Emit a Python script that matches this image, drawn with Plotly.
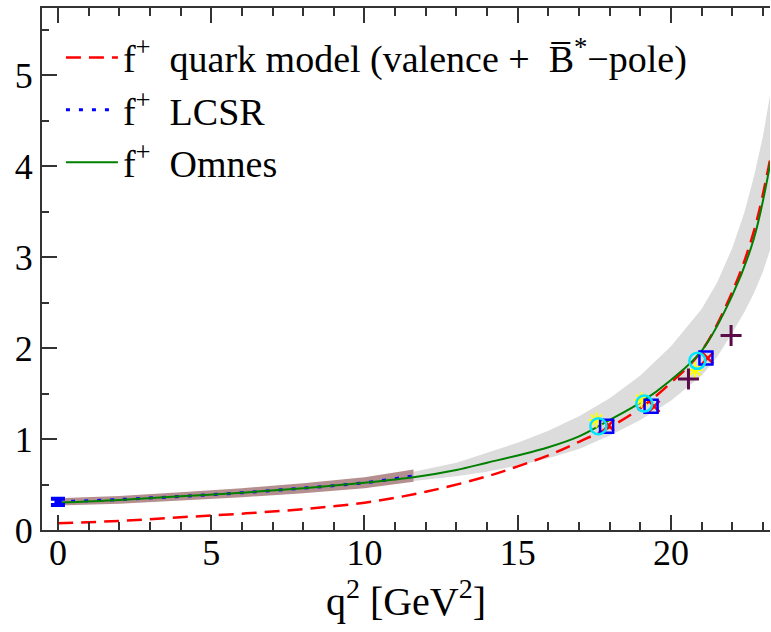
import plotly.graph_objects as go

# Quark model (valence + B*-pole), red dashed
q2_qm = [0, 2, 4, 6, 8, 10, 12, 14, 15, 16, 17, 18, 19, 20, 21, 22, 22.7, 23.26]
f_qm = [0.075, 0.10, 0.14, 0.18, 0.23, 0.30, 0.42, 0.59, 0.70, 0.82, 0.97, 1.13, 1.34, 1.62, 1.97, 2.62, 3.28, 4.12]

# Omnes, green solid
q2_om = [0, 2, 4, 6, 8, 10, 11.6, 13, 14, 15, 16, 17, 18, 19, 20, 21, 22, 22.7, 23.26]
f_om = [0.30, 0.33, 0.37, 0.41, 0.46, 0.52, 0.58, 0.66, 0.74, 0.82, 0.91, 1.03, 1.21, 1.40, 1.65, 1.97, 2.58, 3.20, 4.07]

# Omnes uncertainty band (grey)
q2_band = [11.6, 13, 14, 15, 16, 17, 18, 19, 20, 21, 21.5, 22, 22.4, 22.7, 23.0, 23.26]
band_up = [0.64, 0.74, 0.85, 0.96, 1.09, 1.25, 1.45, 1.70, 2.02, 2.43, 2.72, 3.10, 3.50, 3.88, 4.33, 4.84]
band_lo = [0.54, 0.59, 0.64, 0.71, 0.79, 0.89, 1.04, 1.21, 1.42, 1.70, 1.90, 2.17, 2.40, 2.60, 2.84, 3.11]

# LCSR, blue dotted, with brown band
q2_lc = [0, 2, 4, 6, 8, 10, 11.6]
f_lc = [0.31, 0.335, 0.37, 0.41, 0.46, 0.52, 0.595]
lc_up = [0.35, 0.375, 0.415, 0.46, 0.515, 0.58, 0.665]
lc_lo = [0.27, 0.29, 0.325, 0.36, 0.405, 0.46, 0.53]

# q2 = 0 point
q2_zero = [0]
f_zero = [0.31]
f_zero_err = [0.035]

# lattice points
q2_circ = [17.63, 19.13, 20.86]
f_circ = [1.14, 1.39, 1.86]
q2_star = [17.57, 19.04, 20.78]
f_star = [1.21, 1.43, 1.76]
q2_sq = [17.90, 19.35, 21.14]
f_sq = [1.14, 1.36, 1.89]
q2_x = [17.96, 19.45, 21.20]
f_x = [1.15, 1.36, 1.89]
q2_plus = [20.57, 21.96]
f_plus = [1.66, 2.14]

x_ticks = [0, 5, 10, 15, 20]
y_ticks = [0, 1, 2, 3, 4, 5]

SERIF = "Liberation Serif, Times New Roman, serif"

fig = go.Figure()

# grey band
fig.add_trace(go.Scatter(
    x=q2_band + q2_band[::-1], y=band_up + band_lo[::-1],
    fill="toself", fillcolor="#dcdcdc", line=dict(width=0),
    mode="lines", showlegend=False, hoverinfo="skip"))
# brown band
fig.add_trace(go.Scatter(
    x=q2_lc + q2_lc[::-1], y=lc_up + lc_lo[::-1],
    fill="toself", fillcolor="rgba(150,95,95,0.7)", line=dict(width=0),
    mode="lines", showlegend=False, hoverinfo="skip"))

fig.add_trace(go.Scatter(
    x=q2_qm, y=f_qm, mode="lines",
    line=dict(color="#ff0000", width=2.5, dash="15px,8px", shape="spline"),
    name="f<sup>+</sup>  quark model (valence +  B\u0305<sup>*</sup>\u2212pole)"))
fig.add_trace(go.Scatter(
    x=q2_lc, y=f_lc, mode="lines",
    line=dict(color="#0000ff", width=3, dash="4px,9px", shape="spline"),
    name="f<sup>+</sup>  LCSR"))
fig.add_trace(go.Scatter(
    x=q2_om, y=f_om, mode="lines",
    line=dict(color="#008000", width=2, shape="spline"),
    name="f<sup>+</sup>  Omnes"))

# q2=0 point
fig.add_trace(go.Scatter(
    x=q2_zero, y=f_zero, mode="markers",
    marker=dict(symbol="square", size=7, color="#0000ff"),
    error_y=dict(type="data", array=f_zero_err, color="#0000ff", thickness=4, width=7),
    showlegend=False))

fig.add_trace(go.Scatter(
    x=q2_star, y=f_star, mode="markers", showlegend=False,
    marker=dict(symbol="asterisk-open", size=13, color="#ffff00", line=dict(color="#ffff00", width=2))))
fig.add_trace(go.Scatter(
    x=q2_x, y=f_x, mode="markers", showlegend=False,
    marker=dict(symbol="x-thin-open", size=11, color="#ff0000", line=dict(color="#ff0000", width=2.5))))
fig.add_trace(go.Scatter(
    x=q2_sq, y=f_sq, mode="markers", showlegend=False,
    marker=dict(symbol="square-open", size=13, color="#0000ff", line=dict(color="#0000ff", width=2.5))))
fig.add_trace(go.Scatter(
    x=q2_circ, y=f_circ, mode="markers", showlegend=False,
    marker=dict(symbol="circle-open", size=16, color="#00e5ff", line=dict(color="#00e5ff", width=2.5))))
fig.add_trace(go.Scatter(
    x=q2_plus, y=f_plus, mode="markers", showlegend=False,
    marker=dict(symbol="cross-thin-open", size=15, color="#5c0a4a", line=dict(color="#5c0a4a", width=3))))

axis_common = dict(
    showline=True, linecolor="#333333", linewidth=2,
    ticks="inside", tickcolor="#333333", tickwidth=1.5,
    showgrid=False, zeroline=False,
    tickfont=dict(family=SERIF, size=36, color="black"),
)

fig.update_xaxes(
    range=[-0.52, 23.23], tickvals=x_ticks, ticklen=15, mirror="ticks",
    ticklabelstandoff=-10,
    minor=dict(dtick=1, ticklen=8, ticks="inside", tickcolor="#333333"),
    title=dict(text="q<sup>2</sup> [GeV<sup>2</sup>]", font=dict(family=SERIF, size=40, color="black"), standoff=6),
    **axis_common)
fig.update_yaxes(
    range=[0, 5.74], tickvals=y_ticks, ticklen=15,
    minor=dict(dtick=0.5, ticklen=7, ticks="inside", tickcolor="#333333"),
    **axis_common)

fig.update_layout(
    width=771, height=632,
    margin=dict(l=42, r=1, t=8, b=102),
    plot_bgcolor="white", paper_bgcolor="white",
    legend=dict(x=0.026, y=0.965, xanchor="left", yanchor="top",
                font=dict(family=SERIF, size=38, color="black"),
                bgcolor="rgba(0,0,0,0)", itemwidth=52, tracegroupgap=0),
)

fig.write_html("out.html", config={"displayModeBar": False},
               post_script="document.body.style.margin='0px';document.body.style.padding='0px';")
